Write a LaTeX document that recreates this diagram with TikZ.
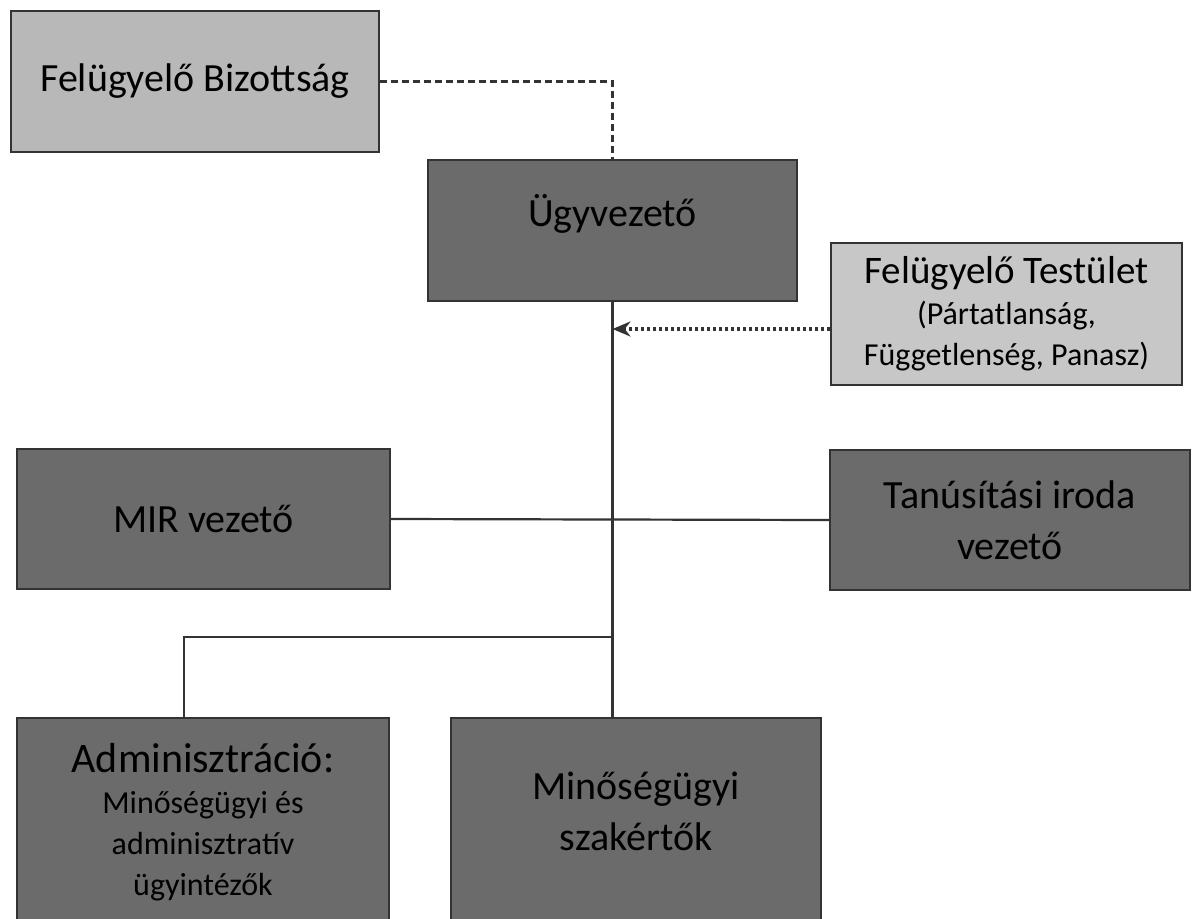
\documentclass[tikz,border=0pt]{standalone}
\usepackage{fontspec}
\setmainfont{Carlito}
\usepackage{xcolor}
\usetikzlibrary{arrows.meta}

\definecolor{darkbox}{gray}{0.42}
\definecolor{lightbox}{gray}{0.72}
\definecolor{paleBox}{gray}{0.78}

\begin{document}
\begin{tikzpicture}[x=1pt,y=-1pt]
        \tikzset{unit style/.style={draw=black!80, line width=1.5pt, rectangle, fill=darkbox, text=black, align=center, font=\fontsize{40}{51}\selectfont}}
        \tikzset{board style/.style={unit style, fill=lightbox}}
        \tikzset{link style/.style={line width=2.2pt, color=black!80}}
        \tikzset{small text/.style={font=\fontsize{32}{41}\selectfont}}

        \useasboundingbox (0,0) rectangle (1193,918);

        % felso szint
        \node[board style, minimum width=368pt, minimum height=141pt] (fb) at (195,81.5) {Felügyelő Bizottság};
        \node[unit style, minimum width=369pt, minimum height=141pt, text depth=40pt] (ugyv) at (612.5,230.5) {Ügyvezető};
        \node[board style, fill=paleBox, small text, minimum width=351pt, minimum height=142pt] (ft) at (1006.5,314) {{\fontsize{39}{44}\selectfont Felügyelő Testület}\\(Pártatlanság,\\Függetlenség, Panasz)};

        % kozepso szint
        \node[unit style, minimum width=373pt, minimum height=140pt] (mir) at (203.5,519) {MIR vezető};
        \node[unit style, minimum width=360pt, minimum height=140pt] (tan) at (1010,520) {Tanúsítási iroda\\vezető};

        % also szint
        \node[unit style, small text, minimum width=372pt, minimum height=207pt, text depth=4pt] (admin) at (203,821.5) {{\fontsize{42}{46}\selectfont Adminisztráció:}\\Minőségügyi és\\adminisztratív\\ügyintézők};
        \node[unit style, minimum width=370pt, minimum height=207pt, text depth=20pt] (szak) at (636,821.5) {Minőségügyi\\szakértők};

        \coordinate (split) at (612,637);

        \draw[link style, line width=3pt, dash pattern=on 7pt off 4pt] (fb.east) -| (ugyv.north);
        \draw[link style] (ugyv.south) -- (ugyv.south |- szak.north);
        \draw[link style] (mir.east) -- (tan.west);
        \draw[link style] (split) -| ([xshift=-19pt]admin.north);
        \draw[line width=3.5pt, color=black!80, dash pattern=on 3pt off 3pt, -{Stealth[length=18pt,width=15pt]}] ([yshift=-15pt]ft.west) -- ([yshift=-15pt]ft.west -| ugyv.south);
    \end{tikzpicture}
\end{document}
